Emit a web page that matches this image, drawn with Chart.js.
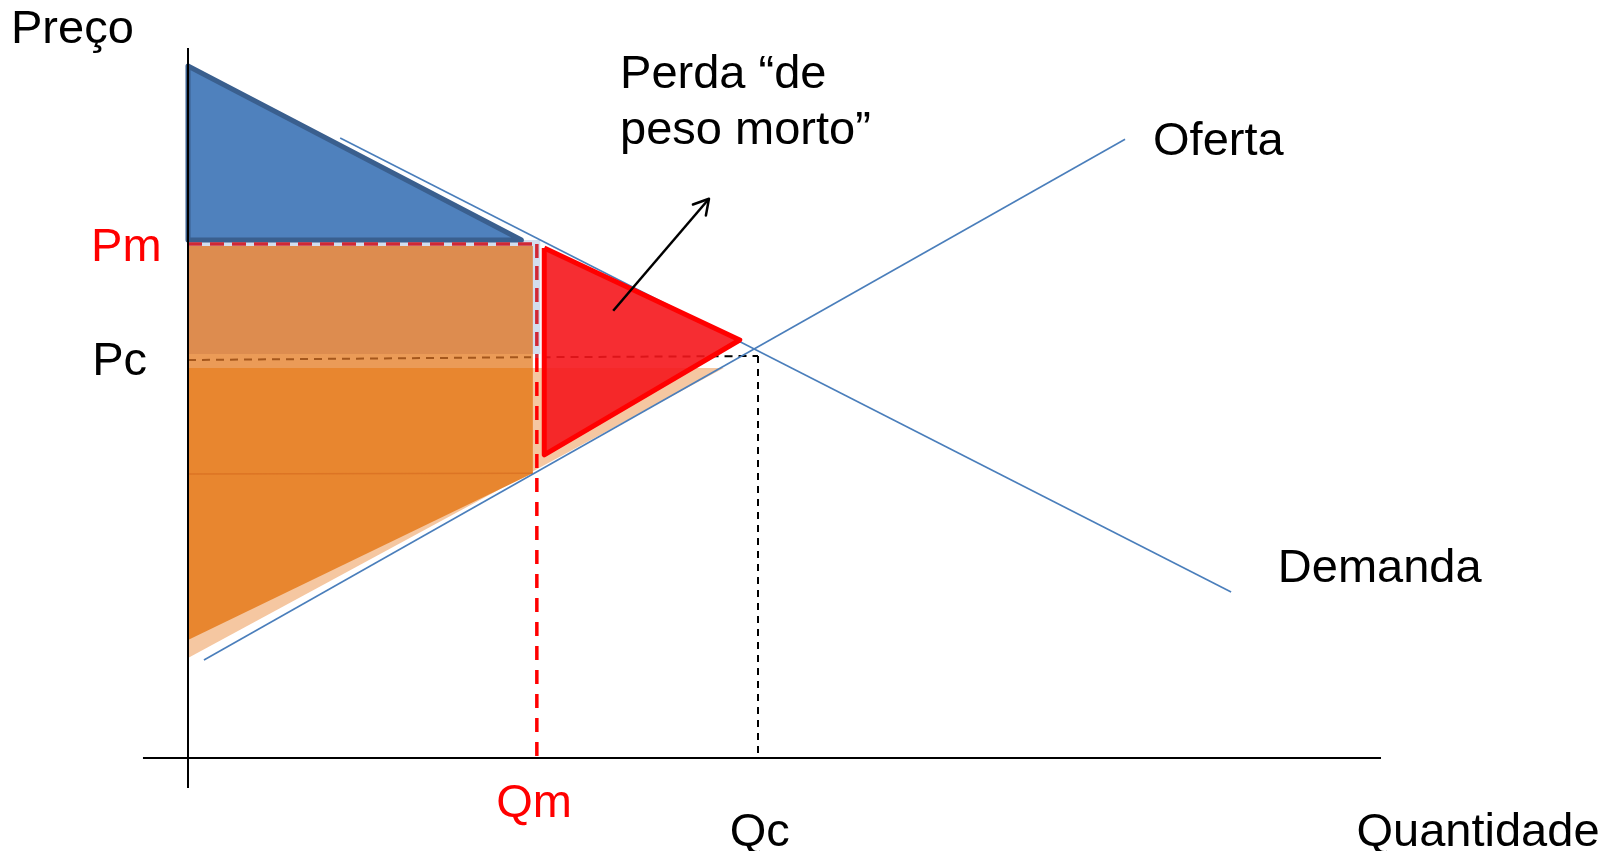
<!DOCTYPE html>
<html>
<head>
<meta charset="utf-8">
<script src="https://cdn.jsdelivr.net/npm/chart.js@4/dist/chart.umd.min.js"></script>
<style>
    html, body { margin: 0; padding: 0; background: #fff; overflow: hidden; }
    #wrap { width: 1616px; height: 851px; position: relative; }
</style>
</head>
<body>
<div id="wrap"><canvas id="chart"></canvas></div>
<script>
// Market values (quantity on x, price on y)
const qm = 6.12;   // monopoly quantity
const qc = 10;     // competitive quantity
const pm = 12.85;  // monopoly price
const pc = 10;     // competitive price

// Demand and supply curves
const demandQ = [2.67, 18.3];
const demandP = [15.5, 4.15];
const supplyQ = [0.28, 16.44];
const supplyP = [2.45, 15.47];

// Consumer surplus under monopoly (blue)
const consumerQ = [0, 0, 5.85, 0];
const consumerP = [17.3, 12.95, 12.95, 17.3];

// Deadweight loss (red)
const lossQ = [6.25, 9.68, 6.25, 6.25];
const lossP = [12.75, 10.45, 7.58, 12.75];

// Producer areas (orange)
const profitQ = [0, 6.18, 6.18, 0];
const profitP = [12.95, 12.95, 10.1, 10.1];
const upperQ = [0, 6.05, 6.05, 0];
const upperP = [12.8, 12.8, 10.1, 10.1];
const bandQ = [0, 6.05, 6.05, 0];
const bandP = [10.1, 10.1, 9.75, 9.75];
const lowerQ = [0, 6.05, 6.05, 0];
const lowerP = [9.75, 9.75, 7.1, 7.1];
const wedgeQ = [0, 6.05, 0];
const wedgeP = [7.1, 7.12, 2.95];
const peachQ = [0, 9.4, 0];
const peachP = [9.75, 9.75, 2.5];

// Arrow pointing at the label
const arrowQ = [7.46, 9.14];
const arrowP = [11.18, 13.98];

// Axes
const axisQ = [-0.79, 20.93];
const axisP = [-0.75, 17.75];

// Text labels
const labelTexts = ['Preço', 'Pm', 'Pc', 'Qm', 'Qc', 'Quantidade', 'Oferta', 'Demanda', 'Perda “de', 'peso morto”'];
const labelQ = [-3.105, -1.70, -1.68, qm - 0.05, qc + 0.03, 20.5, 16.93, 19.12, 7.58, 7.58];
const labelP = [17.875, 12.42, 9.575, -1.475, -2.2, -2.2, 15.075, 4.4, 16.75, 15.35];
const labelRed = ['Pm', 'Qm'];
const labelCentered = ['Qm', 'Qc'];

// Scale window: 57 px per quantity unit, 40 px per price unit
const X_MIN = -188 / 57, X_MAX = 1428 / 57;
const Y_MIN = -93 / 40, Y_MAX = 758 / 40;

const RED = '#ff0000';

function pts(qs, ps) {
    return qs.map((q, i) => ({ x: q, y: ps[i] }));
}

function area(qs, ps, color, extra = {}) {
    return Object.assign({
        data: pts(qs, ps),
        fill: 'shape',
        backgroundColor: color,
        borderColor: color,
        borderWidth: 0
    }, extra);
}

function line(qs, ps, color, width, dash = [], extra = {}) {
    return Object.assign({
        data: pts(qs, ps),
        fill: false,
        borderColor: color,
        borderWidth: width,
        borderDash: dash
    }, extra);
}

// bottom to top
const layers = [
    area(peachQ, peachP, '#f5c7a1'),
    area(profitQ, profitP, '#d3deee'),
    area(upperQ, upperP, '#dd8c4f'),
    area(bandQ, bandP, '#eb9b57'),
    area(lowerQ, lowerP, '#e8862f'),
    area(wedgeQ, wedgeP, '#e8862f'),
    line([0, 6.05], [7.1, 7.12], '#dc7424', 1.5),
    line([0, qm - 0.1], [pc - 0.05, pc + 0.02], '#a5571c', 2, [8, 6]),
    line([qm + 0.1, qc], [pc + 0.02, pc + 0.05], '#000', 2, [8, 6]),
    line([qc, qc], [pc + 0.05, 0], '#000', 2, [7, 6]),
    line(supplyQ, supplyP, '#4a7ebb', 1.6),
    line(demandQ, demandP, '#4a7ebb', 1.6),
    area(consumerQ, consumerP, '#4f81bd', { borderColor: '#3a5f8e', borderWidth: 5 }),
    area(lossQ, lossP, 'rgba(245, 22, 28, 0.9)', { borderColor: RED, borderWidth: 5 }),
    line([0, qm], [pm, pm], '#d02835', 3.5, [14, 8]),
    line([qm, qm], [pm, pc], '#d02835', 3.5, [14, 8]),
    line([qm, qm], [pc, 0], RED, 3.5, [14, 10]),
    line([0, 0], axisP, '#000', 2),
    line(axisQ, [0, 0], '#000', 2),
    line(arrowQ, arrowP, '#000', 2.5, [], { arrowHead: true })
];
const datasets = layers.map((d, i) => Object.assign(d, { order: layers.length - i }));

// open arrowhead at the end of flagged datasets
const arrowPlugin = {
    id: 'arrowHead',
    afterDatasetsDraw(chart) {
        const ctx = chart.ctx;
        chart.data.datasets.forEach((ds, i) => {
            if (!ds.arrowHead) return;
            const pts = chart.getDatasetMeta(i).data;
            const a = pts[pts.length - 2], b = pts[pts.length - 1];
            const ang = Math.atan2(b.y - a.y, b.x - a.x);
            const len = 17, spread = Math.PI / 6;
            ctx.save();
            ctx.strokeStyle = ds.borderColor;
            ctx.lineWidth = ds.borderWidth;
            ctx.lineCap = 'round';
            ctx.lineJoin = 'round';
            ctx.beginPath();
            ctx.moveTo(b.x - len * Math.cos(ang - spread), b.y - len * Math.sin(ang - spread));
            ctx.lineTo(b.x, b.y);
            ctx.lineTo(b.x - len * Math.cos(ang + spread), b.y - len * Math.sin(ang + spread));
            ctx.stroke();
            ctx.restore();
        });
    }
};

// text labels placed through the scales
const labelPlugin = {
    id: 'textLabels',
    afterDraw(chart) {
        const ctx = chart.ctx;
        const xs = chart.scales.x, ys = chart.scales.y;
        ctx.save();
        ctx.font = '47px "Liberation Sans", Arial, sans-serif';
        ctx.textBaseline = 'alphabetic';
        labelTexts.forEach((t, i) => {
            ctx.fillStyle = labelRed.includes(t) ? RED : '#000';
            ctx.textAlign = labelCentered.includes(t) ? 'center' : 'left';
            ctx.fillText(t, xs.getPixelForValue(labelQ[i]), ys.getPixelForValue(labelP[i]));
        });
        ctx.restore();
    }
};

new Chart(document.getElementById('chart'), {
    type: 'line',
    data: { datasets: datasets },
    options: {
        responsive: true,
        maintainAspectRatio: false,
        animation: false,
        layout: { padding: 0 },
        elements: {
            point: { radius: 0, hoverRadius: 0 },
            line: { tension: 0, borderJoinStyle: 'round', borderCapStyle: 'butt' }
        },
        scales: {
            x: { type: 'linear', min: X_MIN, max: X_MAX, display: false },
            y: { type: 'linear', min: Y_MIN, max: Y_MAX, display: false }
        },
        plugins: {
            legend: { display: false },
            tooltip: { enabled: false }
        }
    },
    plugins: [arrowPlugin, labelPlugin]
});
</script>
</body>
</html>
